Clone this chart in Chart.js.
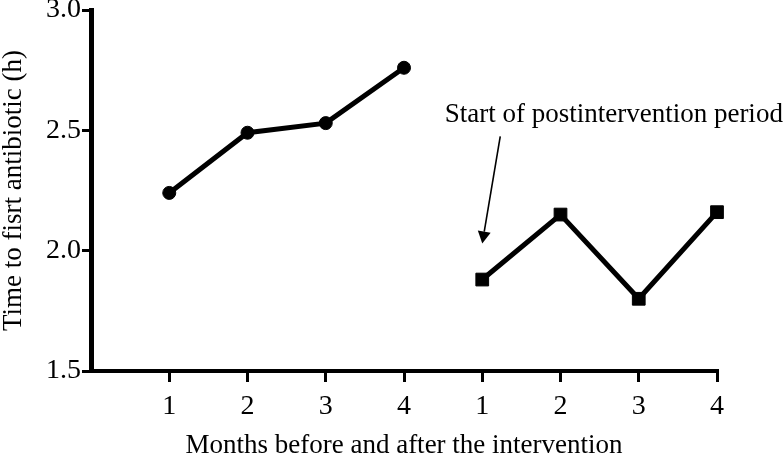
<!DOCTYPE html>
<html lang="en">
<head>
  <meta charset="UTF-8" />
  <title>Time to first antibiotic</title>
  <style>
  body {
    margin: 0;
    padding: 0;
    background: #ffffff;
  }
  #chart {
    display: block;
  }
  </style>
  <script src="https://cdn.jsdelivr.net/npm/chart.js"></script>
</head>
<body>
  <canvas id="chart" width="783" height="457"></canvas>

  <script>
  // month labels along the x axis (4 before, 4 after)
  const monthLabels = ['1', '2', '3', '4', '1', '2', '3', '4'];
  const preMonths = [1, 2, 3, 4];
  const postMonths = [5, 6, 7, 8];
  const preValues = [2.24, 2.49, 2.53, 2.76];
  const postValues = [1.88, 2.15, 1.80, 2.16];
  const yTicks = [1.5, 2.0, 2.5, 3.0];

  // annotation, in data units
  const noteText = 'Start of postintervention period';
  const noteAt = { x: 4.52, y: 2.535 };
  const arrowFrom = { x: 5.23, y: 2.475 };
  const arrowTo = { x: 5.0, y: 2.03 };

  const serif = "'Liberation Serif', 'Times New Roman', serif";
  Chart.defaults.font.family = serif;
  Chart.defaults.color = '#000';

  const toPoints = (xs, ys) => xs.map((x, i) => ({ x: x, y: ys[i] }));

  const annotationPlugin = {
    id: 'noteArrow',
    afterDatasetsDraw(chart) {
      const { ctx, scales: { x, y } } = chart;
      const x1 = x.getPixelForValue(arrowFrom.x), y1 = y.getPixelForValue(arrowFrom.y);
      const x2 = x.getPixelForValue(arrowTo.x), y2 = y.getPixelForValue(arrowTo.y);
      const ang = Math.atan2(y2 - y1, x2 - x1);
      const headLen = 12, headHalf = 6.5;

      ctx.save();
      ctx.strokeStyle = '#000';
      ctx.fillStyle = '#000';
      ctx.lineWidth = 1.6;
      ctx.beginPath();
      ctx.moveTo(x1, y1);
      ctx.lineTo(x2 - Math.cos(ang) * headLen, y2 - Math.sin(ang) * headLen);
      ctx.stroke();

      // filled head
      const bx = x2 - Math.cos(ang) * headLen, by = y2 - Math.sin(ang) * headLen;
      ctx.beginPath();
      ctx.moveTo(x2, y2);
      ctx.lineTo(bx + Math.sin(ang) * headHalf, by - Math.cos(ang) * headHalf);
      ctx.lineTo(bx - Math.sin(ang) * headHalf, by + Math.cos(ang) * headHalf);
      ctx.closePath();
      ctx.fill();

      ctx.font = '27px ' + serif;
      ctx.textAlign = 'left';
      ctx.textBaseline = 'alphabetic';
      ctx.fillText(noteText, x.getPixelForValue(noteAt.x), y.getPixelForValue(noteAt.y));
      ctx.restore();
    }
  };

  const ctx = document.getElementById('chart').getContext('2d');
  new Chart(ctx, {
    type: 'line',
    data: {
      datasets: [
        {
          label: 'Before',
          data: toPoints(preMonths, preValues),
          borderColor: '#000',
          backgroundColor: '#000',
          borderWidth: 5,
          pointStyle: 'circle',
          pointRadius: 6.5,
          pointBorderWidth: 1,
          tension: 0,
          clip: false
        },
        {
          label: 'After',
          data: toPoints(postMonths, postValues),
          borderColor: '#000',
          backgroundColor: '#000',
          borderWidth: 5,
          pointStyle: 'rect',
          pointRadius: 9,
          pointBorderWidth: 1,
          tension: 0,
          clip: false
        }
      ]
    },
    options: {
      responsive: false,
      animation: false,
      layout: { padding: { top: 9, right: 66, left: 0, bottom: 0 } },
      plugins: {
        legend: { display: false },
        tooltip: { enabled: false }
      },
      scales: {
        x: {
          type: 'linear',
          min: 0,
          max: 8,
          afterBuildTicks(scale) {
            scale.ticks = monthLabels.map((_, i) => ({ value: i + 1 }));
          },
          afterFit(scale) {
            scale.height = 86;
            scale.paddingLeft = 0;
            scale.paddingRight = 0;
          },
          ticks: {
            autoSkip: false,
            maxRotation: 0,
            padding: 8,
            font: { size: 28 },
            color: '#000',
            callback: (v) => monthLabels[v - 1] || ''
          },
          grid: {
            drawOnChartArea: false,
            drawTicks: true,
            tickLength: 11,
            color: '#000',
            lineWidth: 3
          },
          border: { display: true, color: '#000', width: 4 },
          title: {
            display: true,
            text: 'Months before and after the intervention',
            font: { size: 27, lineHeight: 0.8 },
            color: '#000',
            padding: 0
          }
        },
        y: {
          type: 'linear',
          min: 1.5,
          max: 3.0,
          afterBuildTicks(scale) {
            scale.ticks = yTicks.map(v => ({ value: v }));
          },
          afterFit(scale) {
            scale.width = 91;
            scale.paddingTop = 0;
            scale.paddingBottom = 0;
          },
          ticks: {
            padding: 1,
            font: { size: 28 },
            color: '#000',
            callback: (v) => v.toFixed(1)
          },
          grid: {
            drawOnChartArea: false,
            drawTicks: true,
            tickLength: 9,
            color: '#000',
            lineWidth: 3
          },
          border: { display: true, color: '#000', width: 5 },
          title: {
            display: true,
            text: 'Time to fisrt antibiotic (h)',
            font: { size: 27, lineHeight: 1 },
            color: '#000',
            padding: 0
          }
        }
      }
    },
    plugins: [annotationPlugin]
  });
  </script>
</body>
</html>
